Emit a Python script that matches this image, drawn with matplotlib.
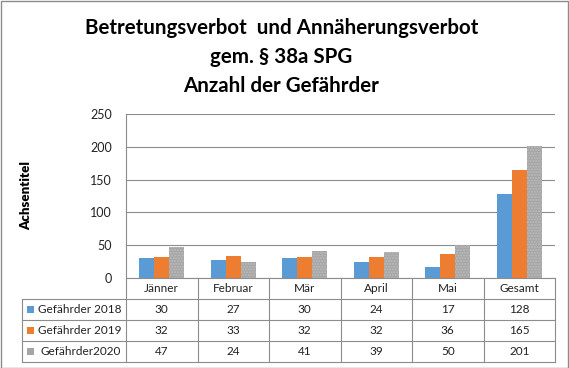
import matplotlib.pyplot as plt
import numpy as np
from matplotlib.lines import Line2D
from matplotlib.patches import Rectangle

plt.rcParams["font.family"] = ["Lato", "DejaVu Sans"]

categories = ["Jänner", "Februar", "Mär", "April", "Mai", "Gesamt"]
series_names = ["Gefährder 2018", "Gefährder 2019", "Gefährder2020"]
g2018 = [30, 27, 30, 24, 17, 128]
g2019 = [32, 33, 32, 32, 36, 165]
g2020 = [47, 24, 41, 39, 50, 201]
series = [g2018, g2019, g2020]
colors = ["#5B9BD5", "#ED7D31", "#A5A5A5"]
yticks = [0, 50, 100, 150, 200, 250]

W, H = 569, 368
fig = plt.figure(figsize=(W / 100, H / 100), dpi=100)

# Plotbereich in Pixeln
left, right, top, bottom = 126, 555, 114, 278
ax = fig.add_axes([left / W, 1 - bottom / H, (right - left) / W, (bottom - top) / H])

x = np.arange(len(categories))
bw = 0.21
for i, (vals, col) in enumerate(zip(series, colors)):
    offs = (i - 1) * bw
    if i == 2:
        ax.bar(x + offs, vals, width=bw, color=col, hatch="......",
               edgecolor="#bdbdbd", linewidth=0, zorder=3)
    else:
        ax.bar(x + offs, vals, width=bw, color=col, linewidth=0, zorder=3)

ax.set_xlim(-0.5, len(categories) - 0.5)
ax.set_ylim(0, 250)
ax.set_yticks(yticks)
ax.set_yticklabels([str(t) for t in yticks], fontsize=9, color="#222222")
ax.set_xticks([])
ax.tick_params(axis="y", length=0, pad=10)
ax.grid(axis="y", color="#8c8c8c", linewidth=0.8, zorder=0)
for s in ["top", "right", "bottom"]:
    ax.spines[s].set_visible(False)
ax.spines["left"].set_color("#8c8c8c")
ax.spines["left"].set_linewidth(0.8)

ax.set_ylabel("Achsentitel", fontsize=9.5, fontweight="heavy")
ax.yaxis.set_label_coords(-(left - 32) / (right - left), 0.5)

# Datentabelle unter der Achse (Pixelkoordinaten der Figur)
lc = "#8c8c8c"
def px(xp, yp):
    return xp / W, 1 - yp / H

def hline(x0, x1, y):
    fig.add_artist(Line2D([x0 / W, x1 / W], [1 - y / H, 1 - y / H], color=lc, lw=0.8))

def vline(xp, y0, y1):
    fig.add_artist(Line2D([xp / W, xp / W], [1 - y0 / H, 1 - y1 / H], color=lc, lw=0.8))

row_y = [278, 299, 320, 341, 362]
tab_left = 22
col_w = (right - left) / len(categories)
hline(left, right, row_y[0])
for y in row_y[1:]:
    hline(tab_left, right, y)
for j in range(len(categories) + 1):
    vline(left + j * col_w, row_y[0], row_y[-1])
vline(tab_left, row_y[1], row_y[-1])

for j, cat in enumerate(categories):
    cx, cy = px(left + (j + 0.5) * col_w, (row_y[0] + row_y[1]) / 2)
    fig.text(cx, cy, cat, ha="center", va="center", fontsize=8.5, color="#222222")

for i, (name, vals, col) in enumerate(zip(series_names, series, colors)):
    yc = (row_y[i + 1] + row_y[i + 2]) / 2
    sx, sy = px(27, yc + 3.5)
    fig.add_artist(Rectangle((sx, sy), 7 / W, 7 / H, transform=fig.transFigure,
                             color=col, lw=0))
    tx, ty = px(38 + (3 if i == 2 else 0), yc)
    fig.text(tx, ty, name, ha="left", va="center", fontsize=8.5, color="#222222")
    for j, v in enumerate(vals):
        cx, cy = px(left + (j + 0.5) * col_w, yc)
        fig.text(cx, cy, str(v), ha="center", va="center", fontsize=8.5, color="#222222")

# Titel
title_lines = ["Betretungsverbot  und Annäherungsverbot", "gem. § 38a SPG", "Anzahl der Gefährder"]
for k, line in enumerate(title_lines):
    tx, ty = px(W / 2 - 3, 28 + k * 29)
    fig.text(tx, ty, line, ha="center", va="center", fontsize=14.8, fontweight="bold")

# Rahmen
fig.add_artist(Rectangle((0.5 / W, 0.5 / H), 1 - 1.5 / W, 1 - 1.5 / H,
                         transform=fig.transFigure, fill=False, edgecolor="#8c8c8c", lw=1))

fig.savefig("out.png", dpi=100)
